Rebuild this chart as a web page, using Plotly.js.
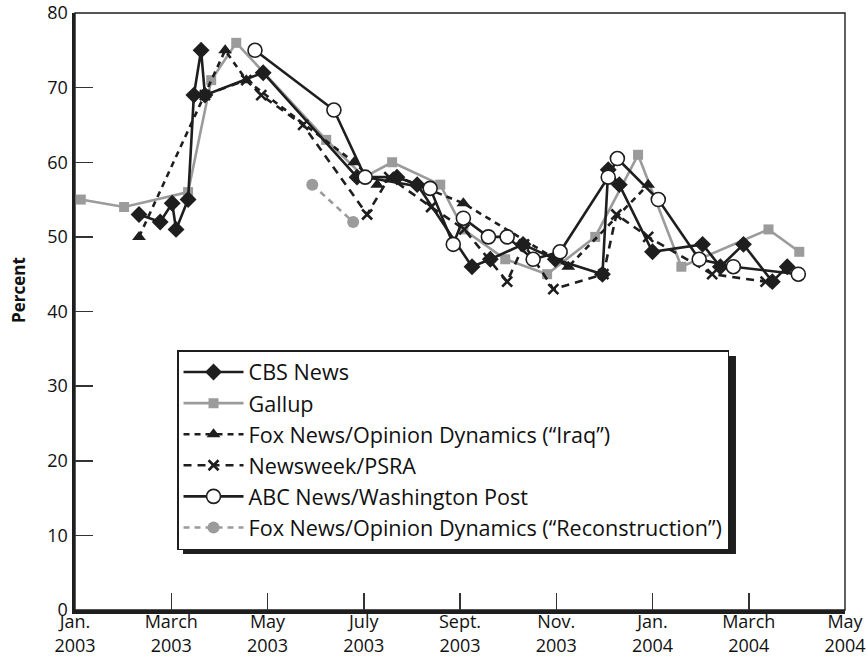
<!DOCTYPE html>
<html>
<head>
<meta charset="utf-8">
<script src="https://cdn.plot.ly/plotly-3.0.1.min.js"></script>
<style>html,body{margin:0;padding:0;background:#fff;}#chart{width:867px;height:659px;}</style>
</head>
<body>
<div id="chart"></div>
<script>
// ---- Data ----
// x values: months elapsed since the start of January 2003 (the chart's month scale is uniform)
const cbsMonths = [1.33,1.77,2.02,2.10,2.35,2.47,2.62,2.70,3.91,5.86,6.69,7.11,8.25,8.63,9.31,9.98,10.96,11.08,11.31,12.00,13.04,13.41,13.89,14.49,14.80];
const cbsValues = [53,52,54.5,51,55,69,75,69,72,58,58,57,46,47,49,47,45,59,57,48,49,46,49,44,46];

const gallupMonths = [0.12,1.02,2.35,2.83,3.35,5.22,6.01,6.59,7.59,8.07,8.94,9.81,10.81,11.70,12.60,14.41,15.05];
const gallupValues = [55,54,56,71,76,63,58,60,57,51,47,45,50,61,46,51,48];

const foxIraqMonths = [1.33,2.70,3.12,3.56,5.80,6.28,6.72,8.07,10.25,11.91];
const foxIraqValues = [50,69,75,71,60,57,58,54.5,46,57];

const newsweekMonths = [2.70,3.56,3.87,4.74,6.07,6.53,7.40,8.09,8.98,9.33,9.94,10.98,11.25,11.91,13.24,14.35];
const newsweekValues = [69,71,69,65,53,58,54,51,44,49,43,45,53,50,45,44];

const abcMonths = [3.74,5.38,6.03,7.38,7.86,8.07,8.59,8.98,9.52,10.08,11.08,11.27,12.12,12.97,13.68,15.03];
const abcValues = [75,67,58,56.5,49,52.5,50,50,47,48,58,60.5,55,47,46,45];

const foxReconMonths = [4.93,5.78];
const foxReconValues = [57,52];

const xTickVals = [0,2,4,6,8,10,12,14,16];
const xTickText = ["Jan.<br>2003","March<br>2003","May<br>2003","July<br>2003","Sept.<br>2003","Nov.<br>2003","Jan.<br>2004","March<br>2004","May<br>2004"];
const yTickVals = [0,10,20,30,40,50,60,70,80];

const BLACK = "#1e1e1e";
const GREY = "#9b9b9b";
const FONT = "Open Sans, Noto Sans, sans-serif";

const traces = [
  {name:"Gallup", x:gallupMonths, y:gallupValues, mode:"lines+markers", legendrank:2,
   line:{color:GREY,width:2.6}, marker:{symbol:"square",size:10,color:GREY}},
  {name:"Fox News/Opinion Dynamics (“Reconstruction”)", x:foxReconMonths, y:foxReconValues, mode:"lines+markers", legendrank:6,
   line:{color:GREY,width:2.6,dash:"6px,5px"}, marker:{symbol:"circle",size:12,color:GREY}},
  {name:"Fox News/Opinion Dynamics (“Iraq”)", x:foxIraqMonths, y:foxIraqValues, mode:"lines+markers", legendrank:3,
   line:{color:BLACK,width:2.6,dash:"6px,5px"}, marker:{symbol:"triangle-up",size:12,color:BLACK}},
  {name:"Newsweek/PSRA", x:newsweekMonths, y:newsweekValues, mode:"lines+markers", legendrank:4,
   line:{color:BLACK,width:2.6,dash:"8px,6px"}, marker:{symbol:"x-thin-open",size:10,color:BLACK,line:{color:BLACK,width:2.6}}},
  {name:"CBS News", x:cbsMonths, y:cbsValues, mode:"lines+markers", legendrank:1,
   line:{color:BLACK,width:2.6}, marker:{symbol:"diamond",size:13,color:BLACK}},
  {name:"ABC News/Washington Post", x:abcMonths, y:abcValues, mode:"lines+markers", legendrank:5,
   line:{color:BLACK,width:2.6}, marker:{symbol:"circle",size:14,color:"#ffffff",line:{color:BLACK,width:1.6}}}
];
traces.forEach((t,i)=>{t.legendgroup="g"+i; t.hoverinfo="skip";});

const layout = {
  width:867, height:659,
  margin:{l:75, r:22, t:13, b:49},
  paper_bgcolor:"#fff", plot_bgcolor:"#fff",
  font:{family:FONT, size:18, color:"#111"},
  showlegend:true,
  legend:{x:0.1325, y:0.4355, xanchor:"left", yanchor:"top", bgcolor:"#fff",
          bordercolor:BLACK, borderwidth:1.5, font:{family:FONT,size:21.6,color:"#111"},
          tracegroupgap:0, itemwidth:60},
  xaxis:{range:[0,16], tickvals:xTickVals, ticktext:xTickText,
         ticks:"inside", ticklen:17, tickwidth:1.5, tickcolor:"#333",
         showline:true, linecolor:BLACK, linewidth:3.5, showgrid:false, zeroline:false,
         ticklabelstandoff:-7,
         tickfont:{family:FONT,size:18,color:"#111"}, fixedrange:true},
  yaxis:{range:[0,80], tickvals:yTickVals, ticks:"inside", ticklen:18, tickwidth:1.5, tickcolor:"#333",
         showline:true, linecolor:BLACK, linewidth:3.5, showgrid:false, zeroline:false,
         tickfont:{family:FONT,size:18,color:"#111"}, fixedrange:true},
  annotations:[
    {text:"<b>Percent</b>", xref:"paper", yref:"paper", x:0, y:0.536, xanchor:"center", yanchor:"middle",
     xshift:-57, textangle:-90, showarrow:false, font:{family:FONT,size:17,color:"#111"}}
  ],
  shapes:[
    {type:"rect", xref:"paper", yref:"paper", x0:0, x1:1, y0:0, y1:1, line:{color:BLACK,width:1.4}, layer:"below"},
    {type:"rect", xref:"paper", yref:"paper", x0:0.1403, x1:0.8584, y0:0.0938, y1:0.4255, fillcolor:BLACK, line:{width:0}, layer:"above"}
  ],
  hovermode:false
};

Plotly.newPlot("chart", traces, layout, {displayModeBar:false, staticPlot:true});
</script>
</body>
</html>
